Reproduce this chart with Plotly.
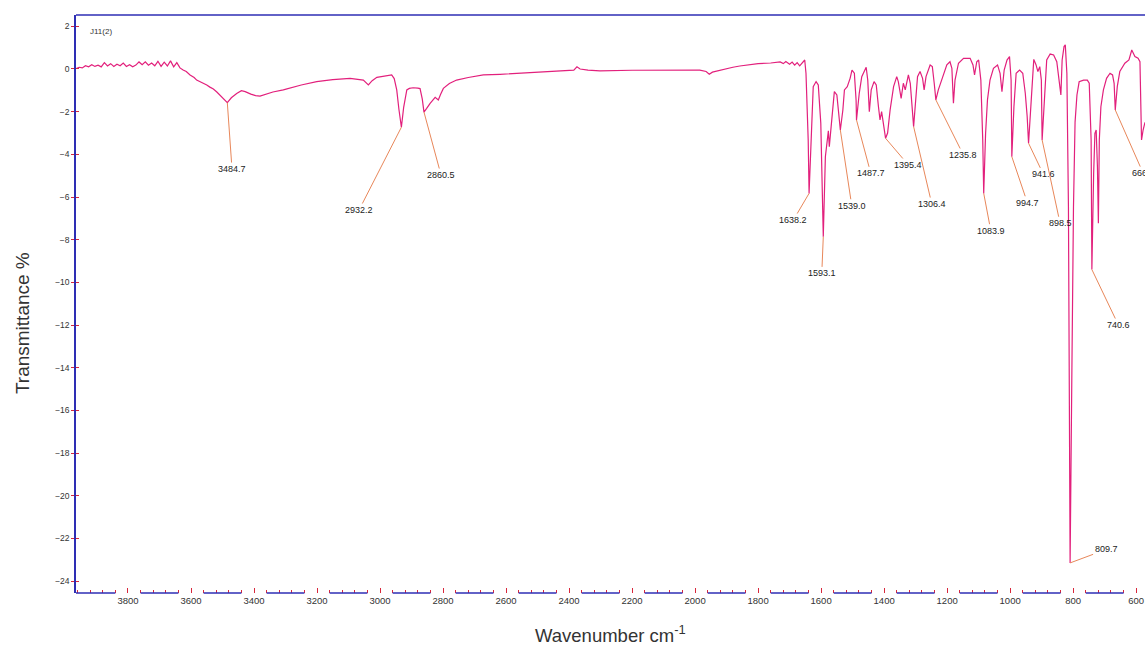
import plotly.graph_objects as go
import numpy as np

# ---------------- data ----------------
wavenumber = [
    3965, 3955, 3945, 3935, 3925, 3915, 3905, 3895, 3885, 3875, 3865, 3855, 3845, 3835,
    3825, 3815, 3805, 3795, 3785, 3775, 3765, 3755, 3745, 3735, 3725, 3715, 3705, 3695,
    3685, 3675, 3665, 3655, 3645, 3635, 3625, 3615, 3603, 3590, 3582, 3570, 3560, 3550,
    3540, 3529, 3518, 3508, 3496, 3484.7, 3472, 3455, 3440, 3428, 3410, 3395, 3381, 3360,
    3340, 3307, 3280, 3250, 3201, 3150, 3095, 3070, 3053, 3037, 3025, 3010, 2990, 2963,
    2955, 2947, 2940, 2932.2, 2925, 2915, 2907, 2895, 2880, 2873, 2866, 2860.5, 2852, 2841,
    2825, 2815, 2808, 2799, 2780, 2757, 2720, 2672, 2619, 2560, 2500, 2440, 2400, 2385,
    2375, 2365, 2340, 2302, 2200, 2100, 2020, 1985, 1965, 1955, 1945, 1920, 1880, 1858,
    1800, 1760, 1730, 1720, 1712, 1700, 1692, 1684, 1676, 1668, 1660, 1652, 1648, 1641,
    1638.2, 1632, 1625, 1616, 1609, 1601, 1593.1, 1586.5, 1580, 1577, 1574, 1569, 1563, 1558,
    1550, 1543, 1539.0, 1531, 1526, 1517, 1508, 1502, 1494.5, 1489, 1487.7, 1479, 1471, 1457,
    1452, 1447, 1441, 1432, 1425, 1418, 1413, 1408, 1400, 1395.4, 1389, 1381, 1370, 1360,
    1355, 1346, 1339, 1333, 1323, 1317, 1306.4, 1302, 1294, 1286, 1278, 1273, 1267, 1254,
    1247, 1241, 1235.8, 1228, 1217, 1201, 1191, 1185, 1180, 1175, 1164, 1148, 1127, 1118,
    1113, 1106, 1100, 1093, 1087, 1083.9, 1078, 1072, 1064, 1053, 1040, 1032, 1026, 1019,
    1010, 1002, 997, 994.7, 988, 981, 970, 960, 952, 946, 941.6, 935, 928, 925,
    918, 912, 906, 901, 898.5, 891, 884, 873, 862, 852, 844, 839, 835, 829,
    825, 820, 815, 809.7, 804, 799, 794, 788, 781, 767, 755, 749, 743, 740.6,
    735, 731, 727, 723, 720, 717, 712, 704, 694, 683, 675, 670, 666.4, 660,
    652, 636, 623, 614, 604, 594, 588, 583, 578, 572,
]
transmittance = [
    0.02, 0.08, 0.05, 0.15, 0.10, 0.20, 0.12, 0.18, 0.10, 0.30, 0.14, 0.25, 0.12, 0.22,
    0.15, 0.28, 0.12, 0.20, 0.10, 0.18, 0.33, 0.20, 0.34, 0.18, 0.28, 0.15, 0.36, 0.12,
    0.32, 0.14, 0.38, 0.10, 0.30, 0.05, -0.05, -0.12, -0.28, -0.40, -0.52, -0.60, -0.68, -0.75,
    -0.85, -0.94, -1.08, -1.22, -1.40, -1.58, -1.35, -1.15, -1.02, -1.06, -1.18, -1.25, -1.27, -1.18,
    -1.08, -0.98, -0.86, -0.75, -0.59, -0.50, -0.44, -0.48, -0.52, -0.75, -0.55, -0.39, -0.33, -0.28,
    -0.45, -0.98, -1.90, -2.73, -1.80, -0.98, -0.91, -0.88, -0.90, -0.92, -1.40, -2.02, -1.85, -1.61,
    -1.33, -1.45, -1.20, -0.91, -0.68, -0.52, -0.40, -0.28, -0.25, -0.20, -0.15, -0.10, -0.05, -0.05,
    0.10, 0.00, -0.05, -0.09, -0.06, -0.05, -0.02, -0.05, -0.12, -0.25, -0.15, -0.05, 0.08, 0.14,
    0.25, 0.28, 0.33, 0.25, 0.35, 0.22, 0.32, 0.18, 0.30, 0.15, 0.28, 0.42, -0.20, -3.33,
    -5.83, -3.33, -0.83, -0.59, -0.75, -2.55, -7.86, -4.11, -3.33, -2.90, -3.64, -2.70, -1.92, -1.06,
    -1.22, -2.39, -2.86, -1.92, -0.98, -0.83, -0.44, -0.05, -0.20, -1.45, -2.39, -1.14, -0.36, 0.08,
    -0.52, -2.00, -0.98, -0.59, -0.75, -1.77, -2.39, -2.00, -2.94, -3.25, -3.00, -1.92, -0.83, -0.36,
    -0.59, -1.38, -0.67, -0.98, -0.28, -0.67, -2.70, -1.77, -0.36, -0.12, -0.44, -0.98, -0.36, 0.19,
    0.11, -0.67, -1.45, -0.98, -0.52, 0.19, 0.34, 0.03, -1.61, -0.52, 0.27, 0.50, 0.50, 0.19,
    -0.28, 0.34, 0.42, -0.52, -3.33, -5.83, -3.02, -1.45, -0.52, 0.03, 0.19, -0.20, -1.06, -0.05,
    0.42, 0.58, -0.52, -4.11, -1.77, -0.20, -0.05, -0.20, -1.14, -2.23, -3.48, -1.77, 0.27, 0.45,
    0.20, -0.12, 0.11, -0.52, -3.33, -1.45, 0.42, 0.70, 0.66, 0.34, -0.52, -1.22, 0.42, 1.05,
    1.13, -0.20, -6.46, -23.15, -14.0, -6.46, -2.50, -1.22, -0.60, -0.52, -0.52, -0.67, -3.33, -9.40,
    -4.89, -3.02, -2.86, -4.58, -7.23, -3.33, -1.77, -0.98, -0.44, -0.20, -0.28, -0.67, -1.92, -0.83,
    -0.12, 0.27, 0.42, 0.89, 0.58, 0.50, 0.34, -3.33, -2.86, -2.50,
]

peak_labels = ["3484.7", "2932.2", "2860.5", "1638.2", "1593.1", "1539.0", "1487.7",
               "1395.4", "1306.4", "1235.8", "1083.9", "994.7", "941.6", "898.5",
               "809.7", "740.6", "666.4"]
peak_wn = [3484.7, 2932.2, 2860.5, 1638.2, 1593.1, 1539.0, 1487.7, 1395.4, 1306.4,
           1235.8, 1083.9, 994.7, 941.6, 898.5, 809.7, 740.6, 666.4]

x_tick_vals = list(range(3800, 599, -200))
y_tick_vals = list(range(2, -25, -2))

# ---------------- layout / style settings ----------------
X_RANGE = [3965, 572]
Y_RANGE = [-24.56, 2.53]
# where each peak label text sits (data units)
label_pos = [(3469.8, -4.69), (3066.6, -6.61), (2806.4, -4.97), (1688, -7.08),
             (1597.9, -9.58), (1502.7, -6.41), (1442.4, -4.89), (1323, -4.5),
             (1248.7, -6.33), (1148.4, -4.03), (1061.4, -7.58), (945.3, -6.27),
             (894.5, -4.94), (841.5, -7.23), (695.5, -22.52), (656.4, -12.0),
             (578, -4.88)]

BLUE = "#2E2EB4"
RED = "#D8283C"
PINK = "#E2207C"
ORANGE = "#E8875A"
FONT = "Liberation Sans, Arial, sans-serif"

fig = go.Figure()
fig.add_trace(go.Scatter(x=wavenumber, y=transmittance, mode="lines",
                         line=dict(color=PINK, width=1.2), showlegend=False,
                         hoverinfo="skip"))
fig.add_trace(go.Scatter(x=[X_RANGE[0]], y=[0], yaxis="y2", mode="markers",
                         marker=dict(opacity=0), showlegend=False, hoverinfo="skip"))

wn_sorted = np.array(wavenumber)[::-1]
tr_sorted = np.array(transmittance)[::-1]
annotations = []
for lab, wn, (lx, ly) in zip(peak_labels, peak_wn, label_pos):
    yv = float(np.interp(wn, wn_sorted, tr_sorted))
    annotations.append(dict(
        x=wn, y=yv, xref="x", yref="y", ax=lx, ay=ly, axref="x", ayref="y",
        text=lab, showarrow=True, arrowhead=0, arrowwidth=1, arrowcolor=ORANGE,
        standoff=0, font=dict(family=FONT, size=9, color="#222222")))

annotations.append(dict(text="Transmittance %", textangle=-90, x=-0.0505, y=0.467,
                        xref="paper", yref="paper", showarrow=False,
                        xanchor="center", yanchor="middle",
                        font=dict(family=FONT, size=19, color="#333333")))
annotations.append(dict(text="Wavenumber cm<sup>-1</sup>", x=0.5, y=-0.071,
                        xref="paper", yref="paper", showarrow=False,
                        xanchor="center", yanchor="middle",
                        font=dict(family=FONT, size=18.5, color="#333333")))
annotations.append(dict(text="J11(2)", x=0.0112, y=0.9706, xref="paper", yref="paper",
                        showarrow=False, xanchor="left", yanchor="middle",
                        font=dict(family=FONT, size=8, color="#333333")))

# bottom axis: blue segments broken around the major tick labels
shapes = []
edges = [X_RANGE[0]]
for m in x_tick_vals:
    edges += [m + 40, m - 40]
edges.append(X_RANGE[1])
for a, b in zip(edges[0::2], edges[1::2]):
    a2, b2 = min(a, X_RANGE[0]), max(b, X_RANGE[1])
    if a2 > b2:
        shapes.append(dict(type="line", xref="x", yref="paper", x0=a2, x1=b2, y0=0, y1=0,
                           line=dict(color=BLUE, width=1.6)))
shapes.append(dict(type="line", xref="paper", yref="paper", x0=0, x1=1, y0=1, y1=1,
                   line=dict(color=BLUE, width=1.5)))

fig.update_layout(
    width=1145, height=646,
    margin=dict(l=76, r=0, t=15, b=53),
    paper_bgcolor="white", plot_bgcolor="white",
    showlegend=False,
    annotations=annotations,
    shapes=shapes,
    xaxis=dict(range=X_RANGE, autorange=False, tickmode="array", tickvals=x_tick_vals,
               ticktext=[str(v) for v in x_tick_vals],
               ticks="inside", ticklen=5, tickcolor=RED, tickwidth=1,
               minor=dict(dtick=40, tick0=0, ticks="inside", ticklen=3, tickcolor=RED,
                          tickwidth=1, showgrid=False),
               showline=False, showgrid=False, zeroline=False,
               tickfont=dict(family=FONT, size=9.5, color="#333333")),
    yaxis=dict(range=Y_RANGE, autorange=False, tickmode="array", tickvals=y_tick_vals,
               ticks="outside", ticklen=3, tickcolor=RED, tickwidth=1,
               showline=True, linecolor=BLUE, linewidth=1.5,
               showgrid=False, zeroline=False,
               tickfont=dict(family=FONT, size=8.5, color="#333333")),
    yaxis2=dict(range=Y_RANGE, autorange=False, overlaying="y", side="left",
                tickmode="array", tickvals=y_tick_vals, showticklabels=False,
                ticks="inside", ticklen=3, tickcolor=RED, tickwidth=1,
                showline=False, showgrid=False, zeroline=False),
)

fig.write_html("out.html")
